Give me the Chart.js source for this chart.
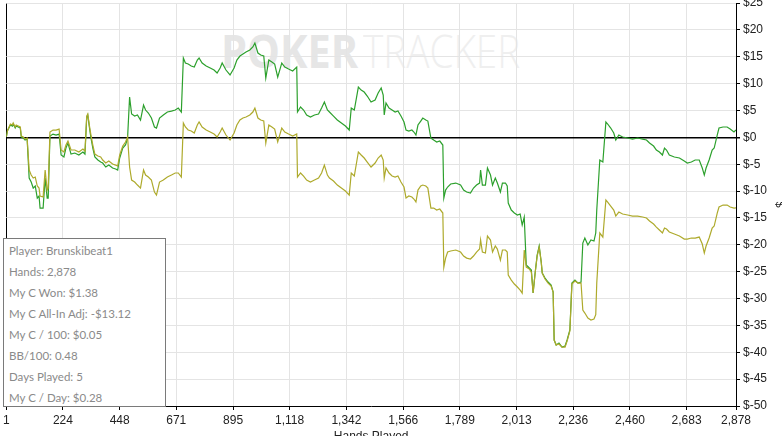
<!DOCTYPE html>
<html><head><meta charset="utf-8">
<script src="https://cdn.jsdelivr.net/npm/chart.js@4"></script>
<style>
html,body{margin:0;padding:0;background:#fff;overflow:hidden;width:782px;height:436px;position:relative;}
#wm1,#wm2{position:absolute;white-space:nowrap;font-family:"Open Sans",sans-serif;font-size:46px;line-height:46px;transform-origin:0 0;}
#wm1{left:221px;top:27px;color:#e6e6e6;font-weight:700;transform:scaleX(0.9);}
#wm2{left:363px;top:27px;color:#efefef;font-weight:300;transform:scaleX(0.84);}
#wrap{position:absolute;left:0;top:-10px;width:790px;height:454px;}
#box{position:absolute;left:3px;top:238px;width:163px;height:169px;box-sizing:border-box;border:1px solid #7a7a7a;background:#fff;
 padding:1px 0 0 5px;font-family:Lato,"Liberation Sans",sans-serif;font-size:11.5px;line-height:21px;color:#8a8a8a;white-space:nowrap;}
</style></head>
<body>
<div id="wm1">POKER</div><div id="wm2">TRACKER</div>
<div id="wrap"><canvas id="c" width="790" height="454"></canvas></div>
<div id="box">
<div>Player: Brunskibeat1</div>
<div>Hands: 2,878</div>
<div>My C Won: $1.38</div>
<div>My C All-In Adj: -$13.12</div>
<div>My C / 100: $0.05</div>
<div>BB/100: 0.48</div>
<div>Days Played: 5</div>
<div>My C / Day: $0.28</div>
</div>
<script>
const hands = [
1,5,17,25,28,36,40,48,56,60,
68,75,83,91,99,107,115,123,130,134,
146,154,162,166,173,185,197,209,217,228,
236,244,256,271,287,303,311,318,322,330,
334,342,350,362,373,381,393,405,420,432,
440,448,460,471,479,487,495,507,518,530,
542,550,561,573,585,593,605,620,636,652,
667,679,691,699,707,718,730,742,754,761,
773,789,805,820,832,844,852,867,883,899,
910,922,934,946,961,973,981,993,1004,1016,
1024,1036,1048,1059,1071,1087,1099,1114,1130,1146,
1149,1161,1173,1185,1200,1216,1232,1244,1255,1267,
1275,1291,1306,1322,1338,1353,1361,1373,1389,1400,
1412,1424,1439,1455,1467,1479,1487,1491,1498,1510,
1522,1534,1545,1557,1569,1577,1588,1600,1608,1616,
1624,1635,1643,1655,1663,1675,1686,1698,1710,1722,
1726,1733,1741,1753,1773,1792,1804,1816,1831,1843,
1855,1867,1871,1878,1890,1898,1910,1918,1929,1937,
1949,1957,1969,1976,1980,1992,2004,2016,2027,2035,
2043,2051,2063,2071,2078,2086,2094,2102,2110,2114,
2125,2137,2149,2157,2161,2169,2180,2192,2204,2212,
2223,2231,2243,2255,2267,2274,2282,2294,2306,2318,
2325,2329,2341,2353,2365,2372,2384,2396,2404,2416,
2431,2451,2470,2490,2510,2525,2537,2553,2564,2576,
2588,2596,2604,2615,2635,2655,2674,2686,2702,2717,
2733,2745,2753,2760,2772,2784,2792,2804,2811,2827,
2843,2855,2870,2878];

const myCWon = [
0.06,1.17,2.29,2.10,2.48,1.73,2.10,1.92,1.73,0.06,
-0.13,-0.50,-0.32,-7.57,-8.32,-9.44,-9.06,-11.30,-10.92,-13.16,
-13.16,-7.57,-11.30,-11.30,0.24,0.61,0.43,0.61,-3.29,-3.66,
-1.99,-1.06,-3.11,-2.92,-3.29,-2.73,-3.11,3.78,4.15,1.36,
0.06,-1.99,-3.66,-4.22,-4.60,-4.78,-5.53,-5.16,-5.71,-5.90,
-6.08,-3.85,-1.99,-1.43,-0.13,7.50,4.34,3.96,4.15,3.22,
6.01,5.08,4.52,3.59,1.92,1.73,3.59,4.15,4.71,4.89,
5.08,5.45,4.71,14.76,13.83,13.64,13.27,13.08,14.39,14.76,
13.83,13.27,12.90,12.53,11.97,12.90,13.83,12.53,11.60,12.90,
14.39,15.13,15.50,15.88,16.25,16.81,17.55,15.69,15.32,15.13,
11.04,14.39,14.02,13.64,11.22,13.83,13.08,12.71,12.34,13.08,
4.71,5.64,5.08,4.15,3.78,4.15,4.34,5.45,6.57,5.08,
4.71,3.96,3.22,2.66,2.10,1.36,5.45,5.08,9.36,8.80,
8.43,7.69,6.57,6.94,8.24,9.18,7.87,4.15,6.38,5.45,
5.08,4.71,4.89,3.96,2.85,1.36,1.17,1.36,0.99,0.43,
2.29,3.03,3.59,3.22,3.03,-0.13,-0.50,-0.87,-0.69,-1.43,
-11.30,-9.81,-9.25,-8.69,-8.51,-8.88,-9.81,-10.18,-10.37,-9.44,
-8.88,-8.51,-6.08,-8.88,-8.88,-5.71,-7.02,-8.88,-7.57,-8.51,
-10.18,-8.51,-8.51,-9.06,-12.23,-13.53,-14.09,-14.46,-14.27,-16.32,
-14.83,-23.76,-24.32,-24.70,-28.98,-25.26,-21.91,-20.23,-23.21,-25.26,
-26.19,-26.93,-27.49,-28.79,-37.72,-38.65,-38.28,-39.03,-38.84,-37.72,
-35.86,-27.12,-26.56,-27.12,-26.93,-19.67,-18.74,-20.04,-19.11,-19.30,
-17.81,-13.53,-4.22,-4.60,2.85,2.48,1.73,0.80,-0.50,0.43,
0.06,-0.13,-0.32,-0.13,-0.32,-0.50,-1.06,-1.62,-2.36,-2.73,
-3.29,-1.99,-2.36,-3.29,-3.66,-3.85,-4.41,-4.78,-4.60,-4.22,
-4.22,-5.71,-7.02,-5.71,-4.22,-2.36,-1.99,0.43,1.73,1.92,
1.92,1.54,0.99,1.38];

const allInAdj = [
0.06,1.17,2.48,2.29,2.66,1.92,2.29,2.10,1.92,0.24,
0.06,-0.32,-0.13,-6.08,-7.02,-7.57,-7.39,-9.06,-9.44,-10.92,
-11.11,-6.08,-9.81,-9.44,0.99,1.36,1.36,1.54,-2.36,-2.73,
-1.43,-0.69,-2.36,-2.36,-2.73,-2.17,-2.55,3.96,4.34,1.73,
0.61,-1.43,-3.11,-3.48,-3.66,-4.22,-4.78,-4.41,-4.97,-5.16,
-5.34,-3.29,-1.62,-0.87,0.06,-5.53,-7.95,-8.32,-8.88,-9.44,
-6.08,-7.02,-7.39,-7.95,-10.18,-10.74,-8.32,-7.95,-7.39,-7.02,
-6.64,-6.64,-7.39,2.66,1.92,1.36,1.17,0.80,2.29,2.85,
1.92,1.36,0.99,0.61,0.06,0.99,1.73,0.43,-0.50,0.80,
2.29,3.22,3.59,3.78,4.15,4.71,5.45,3.59,3.22,3.03,
-1.06,2.29,1.92,1.54,-0.87,1.73,0.99,0.61,0.24,0.61,
-7.39,-6.64,-7.20,-7.95,-8.32,-7.95,-7.57,-6.64,-5.16,-7.02,
-7.57,-8.13,-8.88,-9.44,-9.99,-10.74,-6.64,-7.20,-2.73,-3.29,
-3.85,-4.60,-5.53,-4.78,-3.85,-3.29,-4.22,-7.57,-5.71,-6.64,
-7.20,-7.39,-7.20,-8.32,-9.25,-11.30,-10.92,-11.11,-11.48,-12.04,
-9.81,-9.06,-8.88,-9.06,-9.44,-13.16,-13.16,-13.53,-13.34,-14.09,
-24.14,-22.47,-21.35,-21.16,-20.97,-21.35,-22.09,-22.47,-22.65,-22.09,
-21.35,-20.79,-19.11,-21.35,-21.53,-18.37,-19.11,-21.35,-20.23,-20.79,
-22.84,-20.97,-20.97,-21.35,-25.63,-26.56,-27.30,-27.86,-28.42,-28.98,
-20.97,-24.14,-24.51,-25.07,-28.98,-25.26,-22.09,-20.42,-23.21,-25.26,
-26.37,-27.12,-27.67,-28.79,-37.72,-38.65,-38.47,-39.03,-39.03,-37.91,
-36.04,-27.30,-26.74,-27.12,-27.12,-32.14,-32.70,-33.63,-34.01,-33.82,
-33.00,-27.12,-17.81,-18.56,-11.67,-12.04,-12.79,-13.53,-14.65,-13.90,
-14.27,-14.46,-14.65,-14.65,-14.83,-15.02,-15.58,-16.14,-16.70,-17.25,
-17.81,-16.88,-17.07,-17.62,-17.99,-18.37,-18.93,-18.93,-18.74,-18.74,
-18.56,-19.86,-21.53,-20.23,-18.74,-16.88,-16.51,-14.09,-12.97,-12.60,
-12.60,-12.97,-13.16,-13.12];

const xTicks = [1,224,448,671,895,1118,1342,1566,1789,2013,2236,2460,2683,2878];
const yTickMin = -50, yTickMax = 25, yTickStep = 5;

const FONT = {family:'"Liberation Sans", Arial, sans-serif', size:12};

new Chart(document.getElementById('c'), {
  type:'line',
  data:{datasets:[
    {label:'My C All-In Adj', data:hands.map((h,i)=>({x:h,y:allInAdj[i]})),
     borderColor:'#aeaa2c', borderWidth:1.2, pointRadius:0, tension:0},
    {label:'My C Won', data:hands.map((h,i)=>({x:h,y:myCWon[i]})),
     borderColor:'#2ca02c', borderWidth:1.2, pointRadius:0, tension:0}
  ]},
  options:{
    responsive:false, animation:false, events:[],
    layout:{padding:{top:13,left:3,right:0,bottom:0}},
    plugins:{legend:{display:false}, tooltip:{enabled:false}},
    scales:{
      x:{type:'linear', min:1, max:2878,
        afterBuildTicks:s=>{s.ticks = xTicks.map(v=>({value:v}));},
        afterFit:s=>{s.height = 38;},
        ticks:{autoSkip:false, maxRotation:0, padding:3, color:'#222', font:FONT,
          callback:v=>Number(v).toLocaleString('en-US')},
        grid:{color:c=>(c.tick && (c.tick.value===1||c.tick.value===2878))?'#000':'#e4e4e4',
          tickColor:'#000', tickLength:4, lineWidth:1},
        border:{color:'#000', width:1},
        title:{display:true, text:'Hands Played', color:'#222', font:FONT, padding:0}
      },
      y:{position:'right', min:yTickMin, max:yTickMax,
        afterFit:s=>{s.width = 54;},
        ticks:{stepSize:yTickStep, padding:3, color:'#222', font:FONT, callback:v=>'$'+v},
        grid:{color:c=>(c.tick && c.tick.value===0)?'#000':'#e4e4e4',
          lineWidth:c=>(c.tick && c.tick.value===0)?1.5:1,
          tickColor:'#000', tickLength:4},
        border:{color:'#000', width:1},
        title:{display:true, text:'$', color:'#222', font:{family:FONT.family, size:11}, padding:{top:4,bottom:0}}
      }
    }
  }
});
</script>
</body></html>
